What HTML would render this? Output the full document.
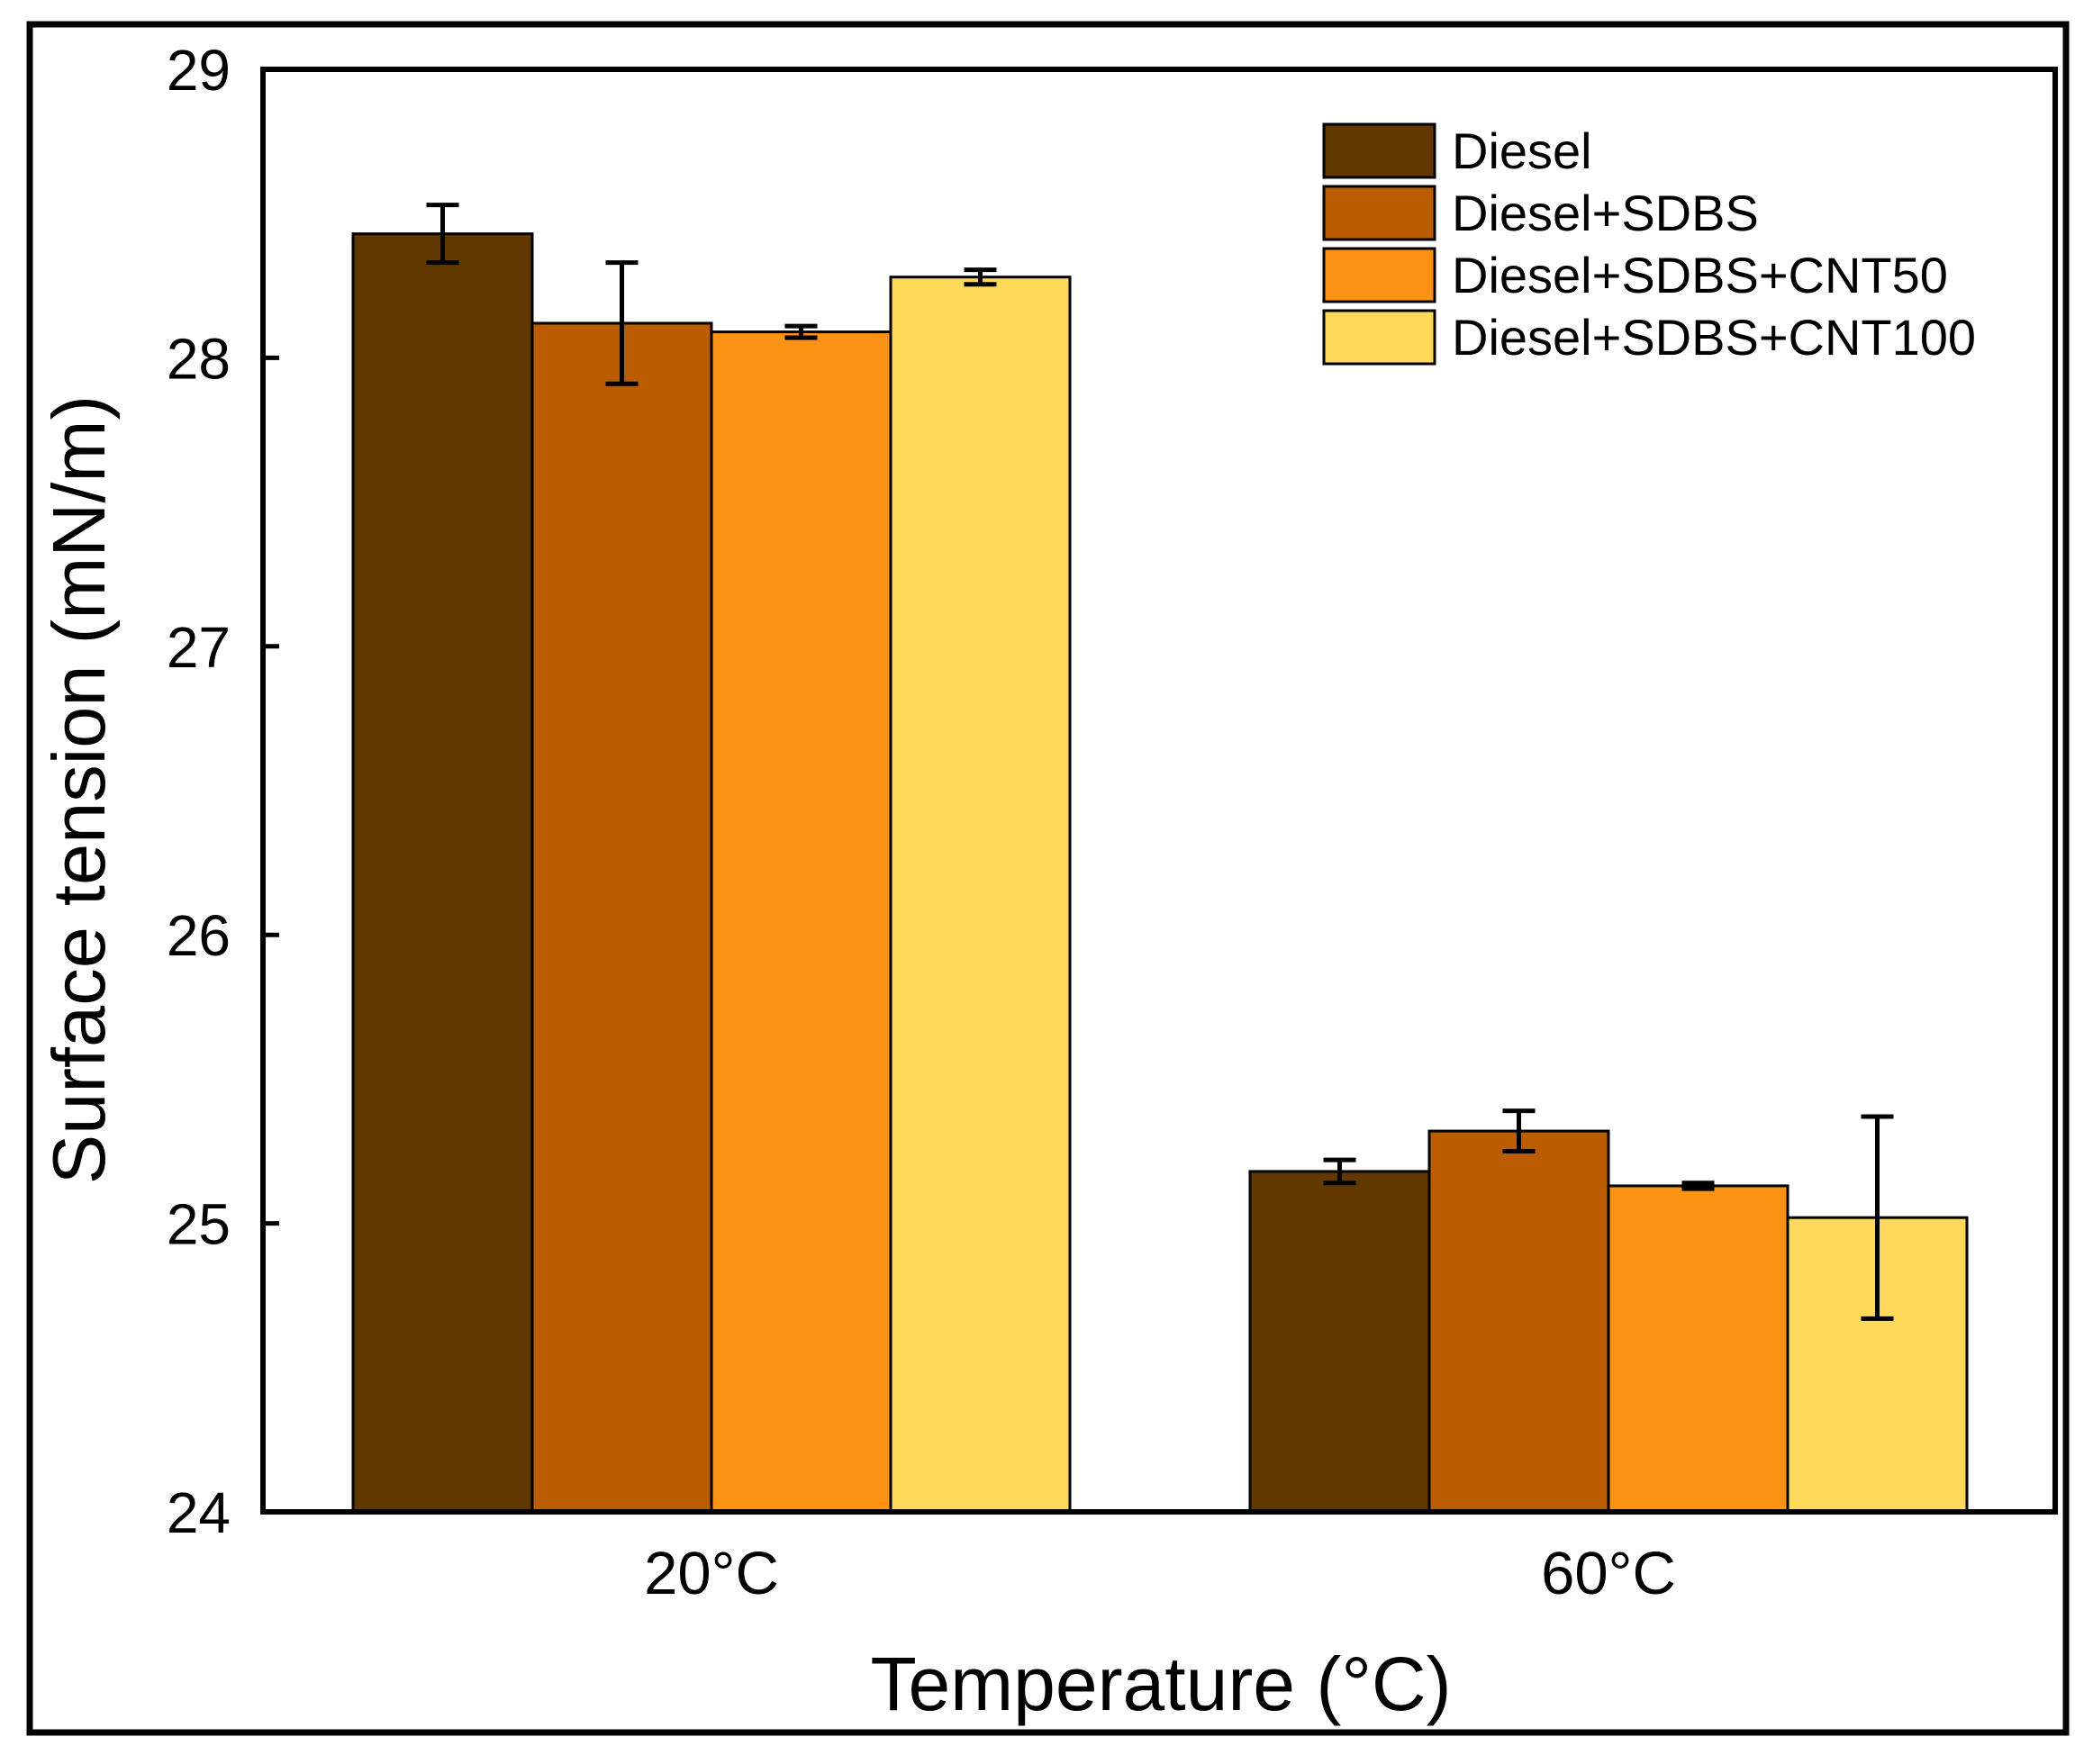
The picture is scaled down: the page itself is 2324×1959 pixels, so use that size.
<!DOCTYPE html>
<html><head><meta charset="utf-8"><style>
html,body{margin:0;padding:0;background:#fff;}
svg{display:block;font-family:"Liberation Sans",Arial,sans-serif;}
</style></head><body>
<svg id="chart" width="2324" height="1959" viewBox="0 0 2324 1959">
<rect x="33" y="27" width="2261" height="1897" fill="#fff" stroke="#000" stroke-width="7"/>
<g id="bars"></g>
<g id="errs"></g>
<rect x="292" y="77" width="1990" height="1602" fill="none" stroke="#000" stroke-width="6"/>
<g id="yticks"></g>
<g id="xticks"></g>
<text x="1289" y="1899" font-size="84" text-anchor="middle">Temperature (°C)</text>
<text transform="translate(116,877) rotate(-90)" font-size="83" text-anchor="middle">Surface tension (mN/m)</text>
<g id="legend"></g>
</svg>
<script>
const categories = ["20°C", "60°C"];
const seriesNames = ["Diesel", "Diesel+SDBS", "Diesel+SDBS+CNT50", "Diesel+SDBS+CNT100"];
const colors = ["#603800", "#bb5c00", "#fe9215", "#ffd95a"];
const dieselVals = [28.43, 25.18];
const sdbsVals = [28.12, 25.32];
const cnt50Vals = [28.09, 25.13];
const cnt100Vals = [28.28, 25.02];
const dieselErr = [0.10, 0.04];
const sdbsErr = [0.21, 0.07];
const cnt50Err = [0.02, 0.01];
const cnt100Err = [0.025, 0.35];
const yTicks = [24, 25, 26, 27, 28, 29];

const values = [dieselVals, sdbsVals, cnt50Vals, cnt100Vals];
const errs = [dieselErr, sdbsErr, cnt50Err, cnt100Err];
const NS = "http://www.w3.org/2000/svg";
const PL = 292, PR = 2282, PT = 77, PB = 1679;
const yMin = 24, yMax = 29;
function yScale(v){ return PB - (v - yMin) / (yMax - yMin) * (PB - PT); }
const groupCenters = [790, 1786];
function xCenter(i){ return groupCenters[i]; }
const barW = 199;
function mk(tag, attrs, parent){ const e = document.createElementNS(NS, tag); for (const k in attrs) e.setAttribute(k, attrs[k]); parent.appendChild(e); return e; }

const gb = document.getElementById('bars'), ge = document.getElementById('errs');
categories.forEach((c, i) => {
  values.forEach((arr, s) => {
    const x = xCenter(i) - 2 * barW + s * barW;
    const y = yScale(arr[i]);
    const r = mk('rect', {x: x, y: y, width: barW, height: PB - y, fill: colors[s], stroke: '#000', 'stroke-width': 3}, gb);
    
    
    const cx = x + barW / 2, y1 = yScale(arr[i] + errs[s][i]), y2 = yScale(arr[i] - errs[s][i]);
    const g = mk('g', {stroke: '#000', 'stroke-width': 5}, ge);
    
    
    mk('line', {x1: cx, x2: cx, y1: y1, y2: y2}, g);
    mk('line', {x1: cx - 18, x2: cx + 18, y1: y1, y2: y1}, g);
    mk('line', {x1: cx - 18, x2: cx + 18, y1: y2, y2: y2}, g);
  });
});

const gy = document.getElementById('yticks');
yTicks.forEach(t => {
  const y = yScale(t);
  const l = mk('line', {x1: PL, x2: PL + 18, y1: y, y2: y, stroke: '#000', 'stroke-width': 5}, gy);
  
  
  const tx = mk('text', {x: 256, y: y + 23, 'font-size': 64, 'text-anchor': 'end'}, gy);
  tx.textContent = t;
  
  
});

const gx = document.getElementById('xticks');
categories.forEach((c, i) => {
  const tx = mk('text', {x: xCenter(i), y: 1770, 'font-size': 67, 'text-anchor': 'middle'}, gx);
  tx.textContent = c;
  
  
});

const gl = document.getElementById('legend');
seriesNames.forEach((n, s) => {
  const y = 138 + s * 69;
  const g = mk('g', {}, gl);
  
  
  mk('rect', {x: 1470, y: y, width: 123, height: 59, fill: colors[s], stroke: '#000', 'stroke-width': 3}, g);
  const t = mk('text', {x: 1612, y: y + 49, 'font-size': 56}, g);
  t.textContent = n;
});
</script>
</body></html>
